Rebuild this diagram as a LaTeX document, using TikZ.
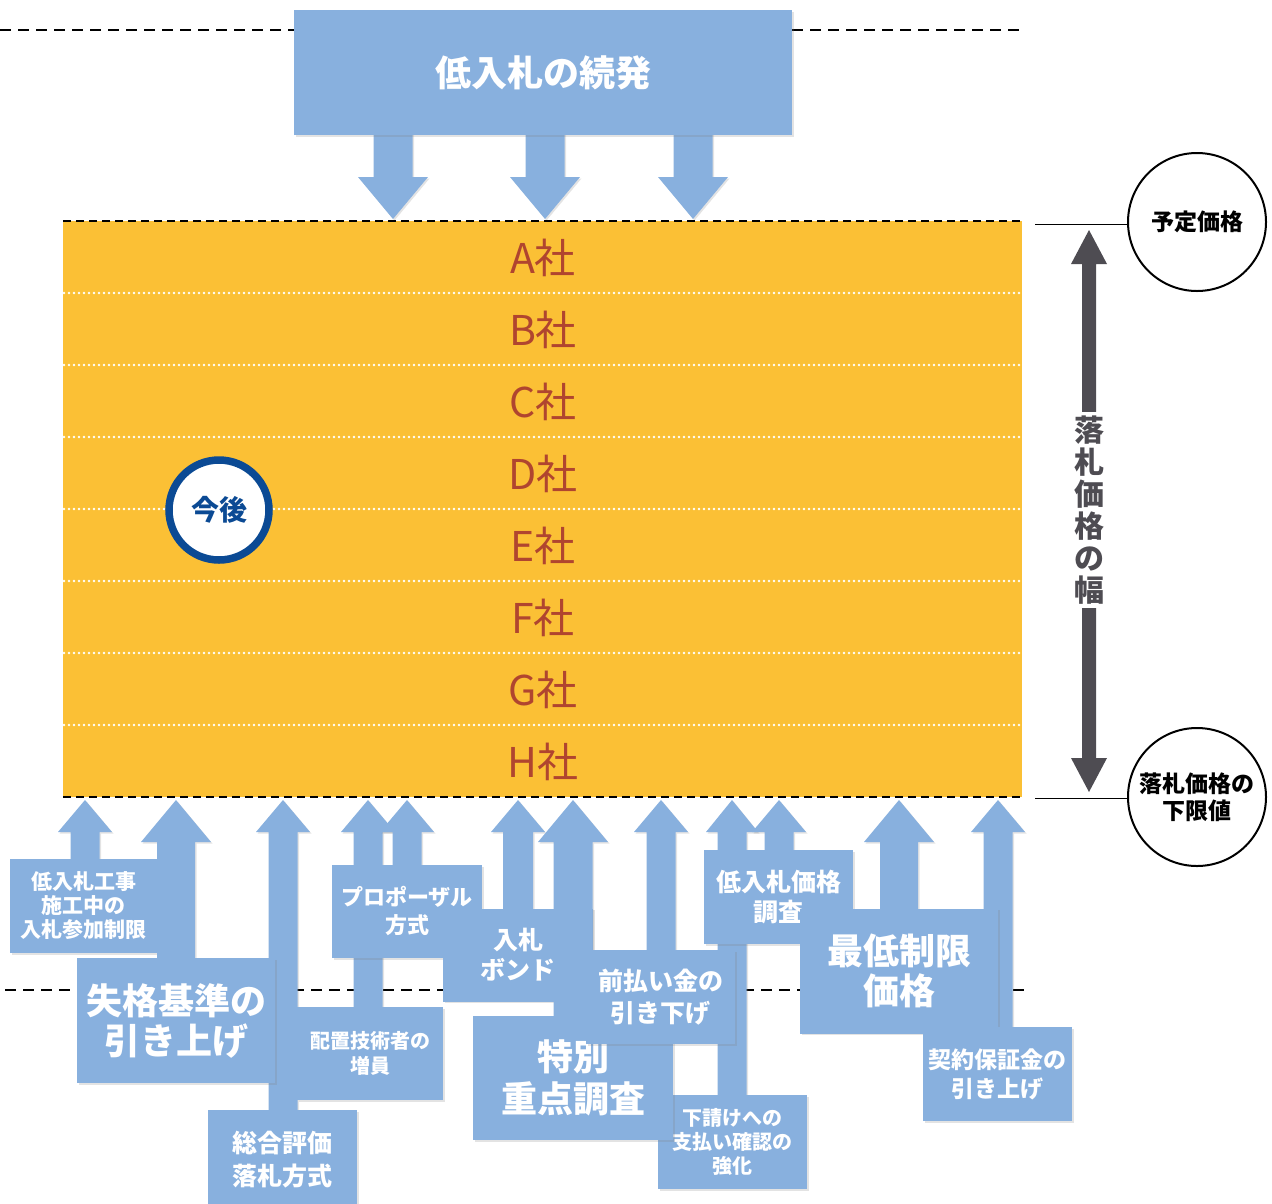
\documentclass[tikz,border=0pt]{standalone}
\usepackage{fontspec}
\newfontfamily\jp{Noto Sans CJK JP}
\usetikzlibrary{shadows}
\definecolor{arwblue}{HTML}{88B0DE}
\definecolor{boxyel}{HTML}{FBC035}
\definecolor{cored}{HTML}{B0452F}
\definecolor{darkg}{HTML}{4E4C52}
\definecolor{navyb}{HTML}{0B4A94}
\tikzset{
  shd/.style={drop shadow={shadow xshift=1.5pt,shadow yshift=-1.5pt,opacity=0.22}},
  arw/.style={fill=arwblue, shd},
  bbox/.style={fill=arwblue, text=white, align=center, inner sep=0pt, shd},
  fs/.style 2 args={font=\jp\bfseries\fontsize{#1}{#2}\selectfont},
  coname/.style={text=cored, font=\jp\fontsize{41}{43}\selectfont},
  pcircle/.style={circle, draw=black, line width=2pt, fill=white, inner sep=0pt, minimum size=138pt, align=center, font=\jp\bfseries\fontsize{23}{27}\selectfont},
  bigdash/.style={draw=black, line width=2.8pt, dash pattern=on 11pt off 7pt},
}
% #1 x centre, #2 tip y, #3 head half width, #4 shaft half width, #5 head base y, #6 tail y
\newcommand{\uparw}[6]{\fill[arw] (#1,#2) -- (#1+#3,#5) -- (#1+#4,#5) -- (#1+#4,#6) -- (#1-#4,#6) -- (#1-#4,#5) -- (#1-#3,#5) -- cycle;}
\begin{document}
\begin{tikzpicture}[x=1pt,y=-1pt]
\useasboundingbox (0,0) rectangle (1272,1203);

% dashed guide lines
\coordinate (tl) at (0,30); \coordinate (tr) at (1020,30);
\draw[bigdash] (tl) -- (tr);
\coordinate (bl) at (5,990); \coordinate (br) at (1025,990);
\draw[bigdash] (bl) -- (br);

% top box and down arrows
\foreach \cx in {393,545,693}{
  \fill[arw] (\cx,219) -- (\cx+35,177) -- (\cx+19.5,177) -- (\cx+19.5,130) -- (\cx-19.5,130) -- (\cx-19.5,177) -- (\cx-35,177) -- cycle;
}
\node[bbox, minimum width=498pt, minimum height=125pt, fs={36}{40}] (top) at (543,72.5) {低入札の続発};

% yellow band
\fill[boxyel] (63,221) rectangle (1022,797);
\foreach \yy in {293,365,437,509,581,653,725}{
  \draw[white, line width=2.6pt, line cap=round, dash pattern=on 0pt off 5pt] (64,\yy) -- (1022,\yy);
}
\draw[line width=2.2pt, dash pattern=on 8pt off 5pt] (63,221) -- (1022,221);
\draw[line width=2.2pt, dash pattern=on 8pt off 5pt] (63,797) -- (1022,797);
\node[coname] (ca) at (543,258) {A社};
\node[coname] (cb) at (543,330) {B社};
\node[coname] (cc) at (543,402) {C社};
\node[coname] (cd) at (543,474) {D社};
\node[coname] (ce) at (543,546) {E社};
\node[coname] (cf) at (543,618) {F社};
\node[coname] (cg) at (543,690) {G社};
\node[coname] (ch) at (543,762) {H社};

\node[circle, draw=navyb, line width=7.5pt, fill=white, minimum size=100pt, inner sep=0pt, text=navyb, font=\jp\bfseries\fontsize{28}{30}\selectfont] (kongo) at (219,510) {今後};

% right side
\node[pcircle] (yotei) at (1197,222) {予定価格};
\node[pcircle] (kagen) at (1197,797) {落札価格の\\下限値};
\coordinate (l1) at (1035,224);
\draw[line width=1pt] (l1) -- (l1 -| yotei.west);
\coordinate (l2) at (1035,798);
\draw[line width=1pt] (l2) -- (l2 -| kagen.west);
\fill[darkg] (1089,230) -- (1107,264) -- (1096,264) -- (1096,758) -- (1107,758) -- (1089,792) -- (1071,758) -- (1082,758) -- (1082,264) -- (1071,264) -- cycle;
\node[fill=white, inner xsep=2pt, inner ysep=4pt, text=darkg, align=center, font=\jp\bfseries\fontsize{30}{32}\selectfont] (haba) at (1089,510) {落\\札\\価\\格\\の\\幅};

% bottom arrows and boxes
\uparw{283}{800}{27}{14.5}{832}{1114}
\node[bbox, minimum width=149pt, minimum height=100pt, fs={25}{33}] (b3) at (282.5,1160) {総合評価\\落札方式};

\uparw{85}{800}{27}{14.5}{832}{860}
\node[bbox, minimum width=147pt, minimum height=94pt, fs={21}{24}] (b1) at (83.5,906) {低入札工事\\施工中の\\入札参加制限};

\uparw{176}{800}{35}{19}{842}{962}
\node[bbox, minimum width=198pt, minimum height=125pt, fs={36}{40}] (b2) at (176,1020.5) {失格基準の\\引き上げ};

\uparw{368}{800}{27}{14.5}{832}{1010}
\node[bbox, minimum width=146pt, minimum height=93pt, fs={20}{25}] (b4) at (370,1053.5) {配置技術者の\\増員};

\uparw{407}{800}{27}{14.5}{832}{868}
\node[bbox, minimum width=150pt, minimum height=93pt, fs={22}{28}] (b5) at (407,911.5) {プロポーザル\\方式};

\uparw{518}{800}{27}{15}{832}{910}
\node[bbox, minimum width=150pt, minimum height=93pt, fs={25}{30}] (b6) at (518,955) {入札\\ボンド};

\uparw{732}{800}{26}{14.5}{832}{1097}
\node[bbox, minimum width=149pt, minimum height=94pt, fs={20}{24}] (b9) at (732.5,1142) {下請けへの\\支払い確認の\\強化};

\uparw{573}{800}{35}{19.5}{842}{1019}
\node[bbox, minimum width=200pt, minimum height=124pt, fs={36}{42}] (b7) at (573,1078) {特別\\重点調査};

\uparw{661}{800}{27}{14.5}{832}{952}
\node[bbox, minimum width=149pt, minimum height=94pt, fs={25}{32}] (b8) at (660.5,997) {前払い金の\\引き下げ};

\uparw{779}{800}{27}{14.5}{832}{852}
\node[bbox, minimum width=149pt, minimum height=94pt, fs={25}{30}] (b10) at (778.5,897) {低入札価格\\調査};

\uparw{998}{800}{27}{14.5}{832}{1029}
\uparw{899}{800}{35}{19}{842}{910}
\node[bbox, minimum width=198pt, minimum height=125pt, fs={36}{40}] (b11) at (899,971) {最低制限\\価格};

\node[bbox, minimum width=149pt, minimum height=94pt, fs={23}{29}] (b12) at (997.5,1074) {契約保証金の\\引き上げ};

\end{tikzpicture}
\end{document}
